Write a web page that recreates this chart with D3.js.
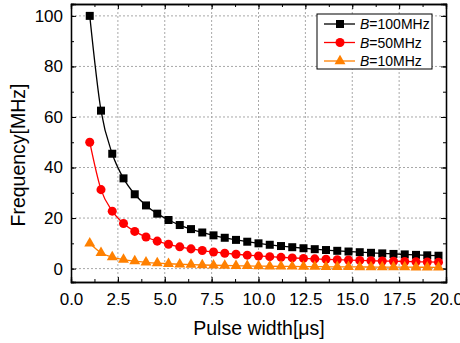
<!DOCTYPE html>
<html>
<head>
<meta charset="utf-8">
<script src="https://cdn.jsdelivr.net/npm/d3@7"></script>
<style>
  body { margin: 0; background: #fff; }
  svg { display: block; font-family: "Liberation Sans", Arial, sans-serif; }
</style>
</head>
<body>
<svg id="chart" width="460" height="343"></svg>
<script>
// Pulse width samples (µs)
const pulseWidth = [1.0, 1.6, 2.2, 2.8, 3.4, 4.0, 4.6, 5.2, 5.8, 6.4, 7.0, 7.6, 8.2, 8.8, 9.4, 10.0,
  10.6, 11.2, 11.8, 12.4, 13.0, 13.6, 14.2, 14.8, 15.4, 16.0, 16.6, 17.2, 17.8, 18.4, 19.0, 19.6];

// Frequency (MHz) for each bandwidth
const freqB100 = [100, 62.5, 45.45, 35.71, 29.41, 25.0, 21.74, 19.23, 17.24, 15.63, 14.29, 13.16, 12.20, 11.36, 10.64, 10.0,
  9.43, 8.93, 8.47, 8.06, 7.69, 7.35, 7.04, 6.76, 6.49, 6.25, 6.02, 5.81, 5.62, 5.43, 5.26, 5.10];
const freqB50 = [50, 31.25, 22.73, 17.86, 14.71, 12.5, 10.87, 9.62, 8.62, 7.81, 7.14, 6.58, 6.10, 5.68, 5.32, 5.0,
  4.72, 4.46, 4.24, 4.03, 3.85, 3.68, 3.52, 3.38, 3.25, 3.13, 3.01, 2.91, 2.81, 2.72, 2.63, 2.55];
const freqB10 = [10, 6.25, 4.55, 3.57, 2.94, 2.5, 2.17, 1.92, 1.72, 1.56, 1.43, 1.32, 1.22, 1.14, 1.06, 1.0,
  0.94, 0.89, 0.85, 0.81, 0.77, 0.74, 0.70, 0.68, 0.65, 0.63, 0.60, 0.58, 0.56, 0.54, 0.53, 0.51];

const seriesNames = ["100MHz", "50MHz", "10MHz"];
const xTicks = [0, 2.5, 5, 7.5, 10, 12.5, 15, 17.5, 20];
const yTicks = [0, 20, 40, 60, 80, 100];

const series = [
  { name: seriesNames[0], values: freqB100, color: "#000000", symbol: d3.symbolSquare, size: 64 },
  { name: seriesNames[1], values: freqB50, color: "#ff0000", symbol: d3.symbolCircle, size: 64 },
  { name: seriesNames[2], values: freqB10, color: "#ff8000", symbol: d3.symbolTriangle, size: 52 }
];

const svg = d3.select("#chart");
const plotLeft = 71, plotRight = 446, plotTop = 4, plotBottom = 282;

const x = d3.scaleLinear().domain([0, 20]).range([plotLeft, plotRight]);
const y = d3.scaleLinear().domain([-5.3, 104.7]).range([plotBottom, plotTop]);

// dotted grid at major ticks
const grid = svg.append("g");
grid.selectAll("line.gx").data(xTicks.slice(1, -1)).join("line")
  .attr("x1", d => x(d)).attr("x2", d => x(d)).attr("y1", plotTop).attr("y2", plotBottom)
  .attr("stroke", "#a8a8a8").attr("stroke-width", 1).attr("stroke-dasharray", "2,2");
grid.selectAll("line.gy").data(yTicks).join("line")
  .attr("x1", plotLeft).attr("x2", plotRight).attr("y1", d => y(d)).attr("y2", d => y(d))
  .attr("stroke", "#a8a8a8").attr("stroke-width", 1).attr("stroke-dasharray", "2,2");

// axes with inward ticks
const xMinor = d3.range(0, 20.01, 1.25);
const yMinor = d3.range(0, 100.01, 10);

svg.append("g").attr("transform", `translate(0,${plotBottom})`)
  .call(d3.axisBottom(x).tickValues(xTicks).tickFormat(d3.format(".1f")).tickSize(-5).tickPadding(11))
  .call(g => g.selectAll("text").attr("font-size", 17).attr("fill", "#000"));
svg.append("g").attr("transform", `translate(0,${plotBottom})`)
  .call(d3.axisBottom(x).tickValues(xMinor).tickFormat("").tickSize(-3));
svg.append("g").attr("transform", `translate(0,${plotTop})`)
  .call(d3.axisTop(x).tickValues(xTicks).tickFormat("").tickSize(-5));
svg.append("g").attr("transform", `translate(0,${plotTop})`)
  .call(d3.axisTop(x).tickValues(xMinor).tickFormat("").tickSize(-3));

svg.append("g").attr("transform", `translate(${plotLeft},0)`)
  .call(d3.axisLeft(y).tickValues(yTicks).tickSize(-5).tickPadding(8))
  .call(g => g.selectAll("text").attr("font-size", 17).attr("fill", "#000"));
svg.append("g").attr("transform", `translate(${plotLeft},0)`)
  .call(d3.axisLeft(y).tickValues(yMinor).tickFormat("").tickSize(-3));
svg.append("g").attr("transform", `translate(${plotRight},0)`)
  .call(d3.axisRight(y).tickValues(yTicks).tickFormat("").tickSize(-5));
svg.append("g").attr("transform", `translate(${plotRight},0)`)
  .call(d3.axisRight(y).tickValues(yMinor).tickFormat("").tickSize(-3));

svg.selectAll(".domain").attr("stroke", "#000").attr("stroke-width", 1.3);
svg.selectAll(".tick line").attr("stroke", "#000");

// curves and markers
const line = d3.line().x((d, i) => x(pulseWidth[i])).y(d => y(d)).curve(d3.curveMonotoneX);
series.forEach(s => {
  svg.append("path").datum(s.values).attr("d", line)
    .attr("fill", "none").attr("stroke", s.color).attr("stroke-width", 1.3);
  svg.append("g").selectAll("path").data(s.values).join("path")
    .attr("transform", (d, i) => `translate(${x(pulseWidth[i])},${y(d)})`)
    .attr("d", d3.symbol().type(s.symbol).size(s.size))
    .attr("fill", s.color);
});

// legend
const lg = svg.append("g");
lg.append("rect").attr("x", 317).attr("y", 14).attr("width", 115).attr("height", 55)
  .attr("fill", "#fff").attr("stroke", "#000").attr("stroke-width", 1);
series.forEach((s, i) => {
  const ly = 24 + i * 18.5;
  lg.append("line").attr("x1", 324).attr("x2", 355).attr("y1", ly).attr("y2", ly)
    .attr("stroke", s.color).attr("stroke-width", 1.3);
  lg.append("path").attr("transform", `translate(340,${ly})`)
    .attr("d", d3.symbol().type(s.symbol).size(s.size)).attr("fill", s.color);
  const t = lg.append("text").attr("x", 360).attr("y", ly + 5).attr("font-size", 14).attr("fill", "#000");
  t.append("tspan").attr("font-style", "italic").text("B");
  t.append("tspan").text("=" + s.name);
});

// axis titles
svg.append("text").attr("x", 259).attr("y", 335).attr("text-anchor", "middle")
  .attr("font-size", 19.5).text("Pulse width[μs]");
svg.append("text").attr("transform", "translate(25,155) rotate(-90)").attr("text-anchor", "middle")
  .attr("font-size", 19.5).text("Frequency[MHz]");
</script>
</body>
</html>
